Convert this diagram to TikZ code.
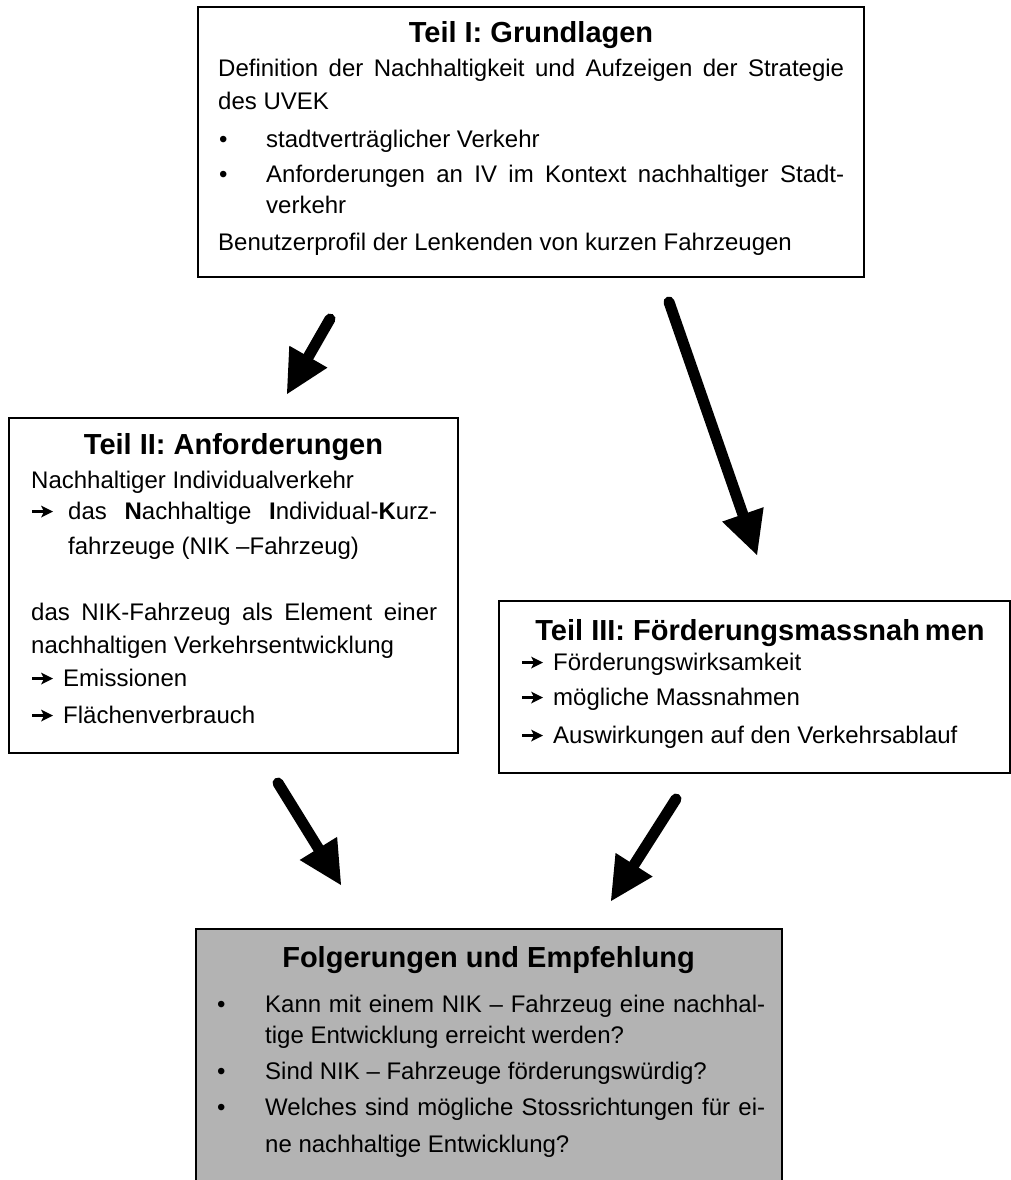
\documentclass[tikz,border=0pt]{standalone}
\usepackage{fontspec}
\setmainfont{Liberation Sans}
\usetikzlibrary{calc}
\definecolor{boxgray}{RGB}{179,179,179}
\tikzset{
  box/.style={draw=black, line width=2pt, rectangle, inner sep=0pt},
  txt/.style={anchor=base west, inner sep=0pt, font=\fontsize{24}{28}\selectfont},
  ttl/.style={anchor=base, inner sep=0pt, font=\bfseries\fontsize{29}{34}\selectfont},
  shaft/.style={line width=11pt, line cap=round},
}
\newcommand\jline[2]{\makebox[#1pt][s]{#2}}
\newcommand\fatarrow[2]{%
  \draw[shaft] (#1) -- ($(#2)!40pt!(#1)$);
  \path ($(#2)!43pt!(#1)$) coordinate (hb#2);
  \fill (#2) -- ($(hb#2)!22pt!90:(#2)$) -- ($(hb#2)!22pt!-90:(#2)$) -- cycle;
}
% small bullet arrow drawn at baseline point (x,y)
\newcommand\smallarr[2]{%
  \fill ($(#1,#2)+(0,-9.3)$) rectangle ($(#1,#2)+(12,-5.7)$);
  \fill ($(#1,#2)+(9,-13.5)$) -- ($(#1,#2)+(21,-7.5)$) -- ($(#1,#2)+(9,-1.5)$) -- ($(#1,#2)+(12,-7.5)$) -- cycle;
}
\begin{document}
\begin{tikzpicture}[x=1pt,y=-1pt]
\useasboundingbox (0,0) rectangle (1011,1180);
\fill[white] (0,0) rectangle (1011,1180);

% boxes
\node[box, minimum width=666pt, minimum height=270pt] (b1) at (531,142) {};
\node[box, minimum width=449pt, minimum height=335pt] (b2) at (233.5,585.5) {};
\node[box, minimum width=511pt, minimum height=172pt] (b3) at (754.5,687) {};
\node[box, fill=boxgray, minimum width=586pt, minimum height=253pt] (b4) at (489,1055.5) {};

% Box I
\node[ttl] (t1) at (531,43) {Teil I: Grundlagen};
\node[txt] (t1a) at (218,77) {\jline{626}{Definition der Nachhaltigkeit und Aufzeigen der Strategie}};
\node[txt] (t1b) at (218,110) {des UVEK};
\node[txt] (t1c) at (219,147) {•};
\node[txt] (t1d) at (266,147) {stadtverträglicher Verkehr};
\node[txt] (t1e) at (219,182) {•};
\node[txt] (t1f) at (266,182) {\jline{578}{Anforderungen an IV im Kontext nachhaltiger Stadt-}};
\node[txt] (t1g) at (266,213) {verkehr};
\node[txt] (t1h) at (218,250) {Benutzerprofil der Lenkenden von kurzen Fahrzeugen};

% Box II
\node[ttl] (t2) at (233.5,454) {Teil II: Anforderungen};
\node[txt] (t2a) at (31,488) {Nachhaltiger Individualverkehr};
\smallarr{32}{519}
\node[txt] (t2c) at (68,519) {\jline{369}{das \textbf{N}achhaltige \textbf{I}ndividual-\textbf{K}urz-}};
\node[txt] (t2d) at (68,554) {fahrzeuge (NIK –Fahrzeug)};
\node[txt] (t2e) at (31,620) {\jline{406}{das NIK-Fahrzeug als Element einer}};
\node[txt] (t2f) at (31,653) {nachhaltigen Verkehrsentwicklung};
\smallarr{32}{686}
\node[txt] (t2h) at (63,686) {Emissionen};
\smallarr{32}{723}
\node[txt] (t2j) at (63,723) {Flächenverbrauch};

% Box III
\node[ttl] (t3) at (760,640) {Teil III: Förderungsmassnah\kern5pt men};
\smallarr{522}{670}
\node[txt] (t3b) at (553,670) {Förderungswirksamkeit};
\smallarr{522}{705}
\node[txt] (t3d) at (553,705) {mögliche Massnahmen};
\smallarr{522}{743}
\node[txt] (t3f) at (553,743) {Auswirkungen auf den Verkehrsablauf};

% Box IV
\node[ttl] (t4) at (488.5,967) {Folgerungen und Empfehlung};
\node[txt] (t4a) at (217,1012) {•};
\node[txt] (t4b) at (265,1012) {\jline{500}{Kann mit einem NIK – Fahrzeug eine nachhal-}};
\node[txt] (t4c) at (265,1043) {tige Entwicklung erreicht werden?};
\node[txt] (t4d) at (217,1079) {•};
\node[txt] (t4e) at (265,1079) {Sind NIK – Fahrzeuge förderungswürdig?};
\node[txt] (t4f) at (217,1115) {•};
\node[txt] (t4g) at (265,1115) {\jline{500}{Welches sind mögliche Stossrichtungen für ei-}};
\node[txt] (t4h) at (265,1152) {ne nachhaltige Entwicklung?};

% arrows
\coordinate (aonet) at (330,319);  \coordinate (aoneh) at (287,394);
\coordinate (atwot) at (669,302);  \coordinate (atwoh) at (757,555);
\coordinate (athreet) at (278,783); \coordinate (athreeh) at (341,885);
\coordinate (afourt) at (676,799); \coordinate (afourh) at (611,901);
\fatarrow{aonet}{aoneh}
\fatarrow{atwot}{atwoh}
\fatarrow{athreet}{athreeh}
\fatarrow{afourt}{afourh}
\end{tikzpicture}
\end{document}
